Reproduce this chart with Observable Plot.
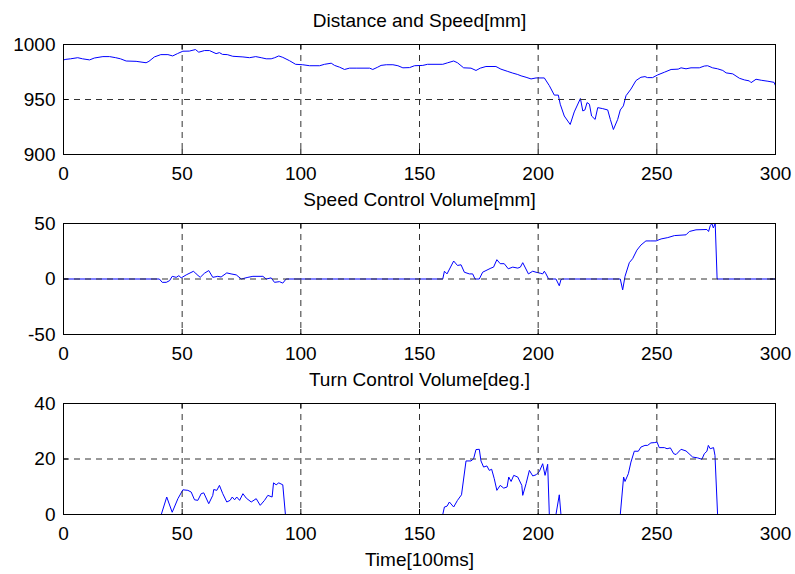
<!DOCTYPE html>
<html><head><meta charset="utf-8">
<script src="https://cdn.jsdelivr.net/npm/d3@7"></script>
<script src="https://cdn.jsdelivr.net/npm/@observablehq/plot@0.6"></script>
<style>
body{margin:0;background:#fff;}
#chart svg{display:block;}
</style></head><body><div id="chart"></div>
<script>
// ---- data ----
const xTicks = [0, 50, 100, 150, 200, 250, 300];
const titles = ["Distance and Speed[mm]", "Speed Control Volume[mm]", "Turn Control Volume[deg.]"];
const xLabel = "Time[100ms]";

const distTicks = [900, 950, 1000];
const speedTicks = [-50, 0, 50];
const turnTicks = [0, 20, 40];

const distT = [
  0,1,3,6,8,11,13,16.6,19.4,22,
  24,26.4,30.6,34.8,36,38.3,41,44,46,48,
  50.3,53,55.6,57,59.4,61.5,64.3,65.7,67,69,
  71.3,75.6,78.4,81,83.3,85.4,87.5,89,90.7,92.4,
  95.2,97.8,100.8,103.7,107.9,110,112.8,114.2,116.3,118.4,
  120.5,123.3,129,130.3,132.4,133.8,136,138.8,140.9,143,
  145.8,147.9,151.4,153.4,159.8,161.9,164.4,166,168.6,171.7,
  173.8,175.6,178,182.2,184.3,187.2,189.3,191.4,192.8,194.9,
  197,199.1,202.6,204.7,206.8,208.5,209.3,211,213.5,215.2,
  217.8,218.8,219.7,220.6,221.6,222.5,224,225.1,227.2,229.3,
  230.4,231.7,233.5,234.6,235.9,237,239.1,241.2,243.3,245,
  246.1,248.2,250.4,253.2,256,259,260.2,262.3,264.4,267.9,
  270,271.4,273.5,275.6,277.8,279.2,282,284.8,286.9,289,
  289.7,291.8,294,296.8,299.4,300
];
const distV = [
  986,986.5,987,988,987,986,987.7,989,989,988,
  987,985,984.7,983.4,984.7,988.7,990.8,990.8,989.6,991.7,
  993.9,994,995.4,993,994.5,994.5,991.7,992.6,991,990.8,
  989.3,988.7,988,989,988,987,987,988,989.6,988.3,
  985.3,982,981.6,980.7,980.7,982,983,981,979.4,977.3,
  978.5,978.5,978.5,977.3,979.4,981,981.6,981.6,980.7,978.8,
  979,980.7,981,982,982,983.4,985,983.4,978.8,978.5,
  976.4,978.5,980,980,977.6,975.5,974,972.7,971.5,970.2,
  968.7,969.6,969.6,962.6,954,954,945.7,935,927.3,938.7,
  950.9,939.6,940.5,947.2,945.7,935,931.9,942.6,941.7,940.5,
  931.9,922.7,931.9,940.5,944.2,953.4,959.5,967.2,970.2,970.8,
  969.9,969.9,972.4,974.8,977.3,977.6,978.8,977.9,978.8,978.8,
  980.4,980.7,978.8,977.9,976.4,974.2,973.3,969.3,967.8,966.9,
  965.3,968.4,967.5,966.6,965.6,962.6
];

const speedT = [
  0,40.4,41.6,43.3,44.7,45.8,47.5,48.6,49.6,51.7,
  54.8,55.9,57.6,59.4,61.2,62.9,65,66.4,68.8,70.6,
  72.8,74.9,77.7,79.8,84,85.4,87.5,88.9,91,92.4,
  93.8,159.8,160.5,161.6,164.4,166,167.5,168.9,171,172.4,
  173.4,175.2,176.6,178,180.1,181.2,182.6,184,185.7,187.4,
  189.3,191.4,192.5,193.5,195.9,197.7,199.1,200.9,201.9,202.6,
  203.3,204.4,207.5,208.9,209.6,210.3,234.6,235.6,236.6,238.4,
  239.8,241.6,243.3,245.4,247.5,249.7,251.8,254.6,257.4,262.3,
  263.7,266.5,271.1,271.8,272.5,273.2,273.8,274.6,275.4,300
];
const speedV = [
  0,0,-3,-3,-1.5,2.4,1.5,3,1,3.7,
  7,4.6,1.5,5.2,7.6,1.5,2.4,1.8,5.5,4.6,
  3.7,0,1.5,2.4,2.4,0,1,-3,-2.4,-3.7,
  0,0,7,4.6,16.2,12.2,12.8,6.1,4.6,4.6,
  0,0,6.1,7.6,9.8,10.7,17.4,13.8,13.8,9.2,
  10.7,9.8,10.7,14.7,4.6,7,6.1,5.2,4.6,7,
  4.6,0,0,-6.1,-0.6,0,0,-9.8,2.4,14.7,
  18.3,26,30.6,34.3,34.3,34.3,36.1,37.3,39.1,39.8,
  42.8,44.3,44.6,42.8,48,50,46,50,0,0
];

const turnT = [
  0,41.2,43.5,45.8,48.2,50.3,52.4,53.8,55.2,56.6,
  58,59.1,61.2,62.9,63.3,64.6,65.7,67.1,68.8,70.2,
  71.1,72.1,73,74.2,75.6,77,79.1,81.2,82.9,84.7,
  86.1,87.9,88.5,89.6,90.7,92.4,93.5,159.8,160.5,161.6,
  162.6,164.4,166,167.7,169.6,171.7,172.8,173.8,175.2,175.9,
  177,178.4,179.4,180.4,181.5,182.6,184,185.5,186.9,187.6,
  188.6,189.7,191.4,193.1,193.5,194.9,196.3,197.7,199.1,200.5,
  201.9,202.9,204,204.7,207.5,208.9,209.6,234.6,236,236.6,
  238,239.1,240.5,242.2,243.3,245,246.1,247.5,248.9,250.1,
  251,253.2,254.3,255.7,257.1,258.1,260.2,262.3,265.1,267.2,
  269,270,271.1,271.7,272.5,273.9,274.5,275.6,300
];
const turnV = [
  0,0,6.3,0.8,5.7,8.9,8.7,8.1,5.3,5.1,
  7.5,7.8,3.9,6.9,9,8.7,10.5,7.5,4.5,5.1,
  6.3,5.3,6.3,5.1,7.5,5.9,4.5,5.7,3.3,5.1,
  6.9,6.3,11.4,10.7,11.4,10.7,0,0,2.7,3,
  4.5,2.7,5.1,7.1,19.3,19.3,20.1,23.4,23.5,19.3,
  17.1,17.5,15.9,16.3,12.9,8.7,10.5,9.5,9.9,13.5,
  11.9,14.1,13.5,10.5,6.9,11.1,15.9,13.9,14.3,15.5,
  18.3,14.1,18.1,0,0,7.1,0,0,13.5,11.9,
  14.7,18.9,22.8,22.8,24.3,24.9,24.9,25.8,25.9,26.1,
  24.1,24.1,23.7,24,21.9,21.6,23.5,22.9,20.7,20.4,
  19.9,21.9,22.8,24.9,23.7,24.1,21.3,0,0
];

// ---- drawing ----
const W = 795, ML = 63, MR = 20;
const FONT = "'Liberation Sans', Arial, Helvetica, sans-serif";

function panel({title, t, v, ticks, height, marginTop, marginBottom, xlabel}) {
  const data = t.map((d, i) => ({t: d, v: v[i]}));
  const pw = W - ML - MR, ph = height - marginTop - marginBottom;
  const marks = [
    Plot.line(data, {x: "t", y: "v", stroke: "#0000ff", strokeWidth: 1}),
    Plot.ruleX(xTicks.slice(1, -1), {stroke: "#333", strokeDasharray: "6,5"}),
    Plot.ruleY(ticks.slice(1, -1), {stroke: "#333", strokeDasharray: "6,5"}),
    Plot.tickX(xTicks, {x: d => d, insetTop: ph - 5, stroke: "#000"}),
    Plot.tickX(xTicks, {x: d => d, insetBottom: ph - 5, stroke: "#000"}),
    Plot.tickY(ticks, {y: d => d, insetRight: pw - 5, stroke: "#000"}),
    Plot.tickY(ticks, {y: d => d, insetLeft: pw - 5, stroke: "#000"}),
    Plot.frame({stroke: "#000"}),
    Plot.text([title], {text: d => d, frameAnchor: "top", dy: -18, lineAnchor: "bottom",
      fontSize: 19, fill: "#000", style: "letter-spacing:1px"})
  ];
  if (xlabel) {
    marks.push(Plot.text([xlabel], {text: d => d, frameAnchor: "bottom", dy: 51.5, lineAnchor: "bottom",
      fontSize: 19, fill: "#000"}));
  }
  return Plot.plot({
    width: W, height, marginLeft: ML, marginRight: MR, marginTop, marginBottom,
    style: {fontFamily: FONT, fontSize: "19px", color: "#000", background: "#fff", overflow: "visible"},
    x: {domain: [0, 300], ticks: xTicks, tickSize: 0, tickPadding: 12, tickFormat: d => String(d), label: null},
    y: {domain: [ticks[0], ticks[ticks.length - 1]], ticks, tickSize: 0, tickPadding: 8, tickFormat: d => String(d), label: null},
    marks
  });
}

const chart = document.getElementById("chart");
chart.append(
  panel({title: titles[0], t: distT, v: distV, ticks: distTicks, height: 180, marginTop: 44, marginBottom: 26}),
  panel({title: titles[1], t: speedT, v: speedV, ticks: speedTicks, height: 179, marginTop: 43, marginBottom: 25}),
  panel({title: titles[2], t: turnT, v: turnV, ticks: turnTicks, height: 215, marginTop: 44, marginBottom: 60, xlabel: xLabel})
);
</script>
</body></html>
